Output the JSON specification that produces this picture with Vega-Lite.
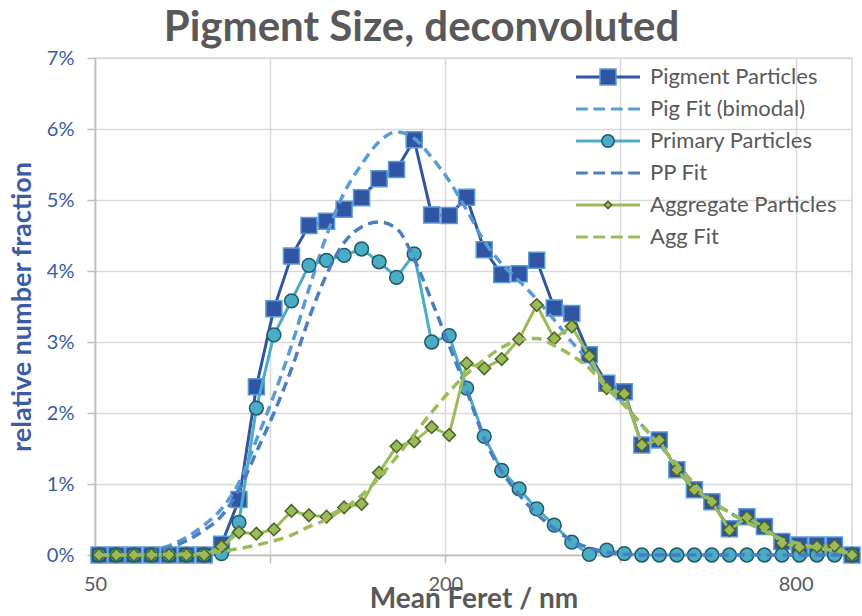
{
  "$schema": "https://vega.github.io/schema/vega-lite/v6.json",
  "autosize": {"type": "none"},
  "width": 757,
  "height": 497,
  "padding": {"left": 95, "top": 58, "right": 10, "bottom": 61},
  "background": "white",
  "title": {"text": "Pigment Size, deconvoluted", "font": "Lato", "fontSize": 42, "fontWeight": "bold", "color": "#595959", "anchor": "middle", "frame": "group", "dx": -52, "offset": -2},
  "data": {"values": [
    {"d": 50.8, "pig": 0, "pigFit": 0, "pp": 0, "ppFit": 0, "agg": 0, "aggFit": 0},
    {"d": 54.4, "pig": 0, "pigFit": 0.005, "pp": 0, "ppFit": 0, "agg": 0, "aggFit": 0},
    {"d": 58.3, "pig": 0, "pigFit": 0.02, "pp": 0, "ppFit": 0.01, "agg": 0, "aggFit": 0},
    {"d": 62.5, "pig": 0, "pigFit": 0.06, "pp": 0, "ppFit": 0.04, "agg": 0, "aggFit": 0},
    {"d": 67.0, "pig": 0, "pigFit": 0.13, "pp": 0, "ppFit": 0.1, "agg": 0, "aggFit": 0.01},
    {"d": 71.8, "pig": 0, "pigFit": 0.25, "pp": 0, "ppFit": 0.2, "agg": 0, "aggFit": 0.01},
    {"d": 77.0, "pig": 0, "pigFit": 0.42, "pp": 0, "ppFit": 0.35, "agg": 0, "aggFit": 0.02},
    {"d": 82.5, "pig": 0.15, "pigFit": 0.65, "pp": 0.02, "ppFit": 0.55, "agg": 0.12, "aggFit": 0.05},
    {"d": 88.4, "pig": 0.78, "pigFit": 1.02, "pp": 0.46, "ppFit": 0.92, "agg": 0.32, "aggFit": 0.09},
    {"d": 94.7, "pig": 2.37, "pigFit": 1.62, "pp": 2.07, "ppFit": 1.45, "agg": 0.30, "aggFit": 0.14},
    {"d": 101.5, "pig": 3.47, "pigFit": 2.25, "pp": 3.10, "ppFit": 2.0, "agg": 0.36, "aggFit": 0.2},
    {"d": 108.8, "pig": 4.21, "pigFit": 2.95, "pp": 3.58, "ppFit": 2.62, "agg": 0.62, "aggFit": 0.28},
    {"d": 116.6, "pig": 4.64, "pigFit": 3.75, "pp": 4.08, "ppFit": 3.33, "agg": 0.56, "aggFit": 0.40},
    {"d": 125.0, "pig": 4.70, "pigFit": 4.5, "pp": 4.15, "ppFit": 3.95, "agg": 0.54, "aggFit": 0.50},
    {"d": 134.0, "pig": 4.87, "pigFit": 5.1, "pp": 4.22, "ppFit": 4.4, "agg": 0.67, "aggFit": 0.66},
    {"d": 143.6, "pig": 5.03, "pigFit": 5.5, "pp": 4.31, "ppFit": 4.62, "agg": 0.72, "aggFit": 0.84},
    {"d": 153.9, "pig": 5.30, "pigFit": 5.82, "pp": 4.13, "ppFit": 4.69, "agg": 1.16, "aggFit": 1.09},
    {"d": 164.9, "pig": 5.43, "pigFit": 5.96, "pp": 3.91, "ppFit": 4.6, "agg": 1.53, "aggFit": 1.38},
    {"d": 176.8, "pig": 5.85, "pigFit": 5.87, "pp": 4.24, "ppFit": 4.17, "agg": 1.60, "aggFit": 1.70},
    {"d": 189.5, "pig": 4.79, "pigFit": 5.6, "pp": 3.00, "ppFit": 3.58, "agg": 1.80, "aggFit": 2.01},
    {"d": 203.1, "pig": 4.78, "pigFit": 5.27, "pp": 3.09, "ppFit": 2.95, "agg": 1.69, "aggFit": 2.30},
    {"d": 217.6, "pig": 5.04, "pigFit": 4.86, "pp": 2.35, "ppFit": 2.32, "agg": 2.70, "aggFit": 2.55},
    {"d": 233.3, "pig": 4.30, "pigFit": 4.42, "pp": 1.67, "ppFit": 1.64, "agg": 2.63, "aggFit": 2.75},
    {"d": 250.0, "pig": 3.95, "pigFit": 4.1, "pp": 1.19, "ppFit": 1.18, "agg": 2.76, "aggFit": 2.92},
    {"d": 267.9, "pig": 3.96, "pigFit": 3.86, "pp": 0.93, "ppFit": 0.85, "agg": 3.04, "aggFit": 3.03},
    {"d": 287.2, "pig": 4.15, "pigFit": 3.6, "pp": 0.65, "ppFit": 0.58, "agg": 3.52, "aggFit": 3.05},
    {"d": 307.8, "pig": 3.48, "pigFit": 3.31, "pp": 0.42, "ppFit": 0.37, "agg": 3.05, "aggFit": 2.95},
    {"d": 329.9, "pig": 3.40, "pigFit": 3.0, "pp": 0.18, "ppFit": 0.2, "agg": 3.22, "aggFit": 2.81},
    {"d": 353.6, "pig": 2.82, "pigFit": 2.72, "pp": 0.01, "ppFit": 0.1, "agg": 2.80, "aggFit": 2.63},
    {"d": 378.9, "pig": 2.42, "pigFit": 2.38, "pp": 0.07, "ppFit": 0.04, "agg": 2.35, "aggFit": 2.35},
    {"d": 406.1, "pig": 2.30, "pigFit": 2.12, "pp": 0.02, "ppFit": 0.01, "agg": 2.27, "aggFit": 2.11},
    {"d": 435.3, "pig": 1.55, "pigFit": 1.83, "pp": 0, "ppFit": 0, "agg": 1.55, "aggFit": 1.83},
    {"d": 466.5, "pig": 1.62, "pigFit": 1.55, "pp": 0, "ppFit": 0, "agg": 1.62, "aggFit": 1.55},
    {"d": 500.0, "pig": 1.20, "pigFit": 1.28, "pp": 0, "ppFit": 0, "agg": 1.20, "aggFit": 1.28},
    {"d": 535.9, "pig": 0.92, "pigFit": 1.0, "pp": 0, "ppFit": 0, "agg": 0.92, "aggFit": 1.0},
    {"d": 574.3, "pig": 0.75, "pigFit": 0.76, "pp": 0, "ppFit": 0, "agg": 0.75, "aggFit": 0.76},
    {"d": 615.6, "pig": 0.37, "pigFit": 0.6, "pp": 0, "ppFit": 0, "agg": 0.35, "aggFit": 0.6},
    {"d": 659.8, "pig": 0.54, "pigFit": 0.46, "pp": 0, "ppFit": 0, "agg": 0.53, "aggFit": 0.46},
    {"d": 707.1, "pig": 0.40, "pigFit": 0.34, "pp": 0, "ppFit": 0, "agg": 0.39, "aggFit": 0.34},
    {"d": 757.9, "pig": 0.19, "pigFit": 0.22, "pp": 0, "ppFit": 0, "agg": 0.17, "aggFit": 0.22},
    {"d": 812.3, "pig": 0.14, "pigFit": 0.16, "pp": 0, "ppFit": 0, "agg": 0.11, "aggFit": 0.16},
    {"d": 870.6, "pig": 0.14, "pigFit": 0.1, "pp": 0, "ppFit": 0, "agg": 0.12, "aggFit": 0.1},
    {"d": 933.0, "pig": 0.14, "pigFit": 0.06, "pp": 0, "ppFit": 0, "agg": 0.13, "aggFit": 0.06},
    {"d": 1000.0, "pig": 0, "pigFit": 0.02, "pp": 0, "ppFit": 0, "agg": 0, "aggFit": 0.02}
  ]},
  "encoding": {
    "x": {"field": "d", "type": "quantitative", "title": "Mean Feret / nm",
      "scale": {"type": "log", "base": 2, "domain": [50, 1000], "nice": false, "zero": false},
      "axis": {"values": [50, 100, 200, 400, 800], "labelExpr": "datum.value == 100 || datum.value == 400 ? '' : datum.label", "format": "d"}}
  },
  "layer": [
    {"mark": {"type": "line", "color": "#2F55A4", "strokeWidth": 3},
     "encoding": {"y": {"field": "pig", "type": "quantitative", "title": "relative number fraction",
       "scale": {"domain": [0, 7], "nice": false},
       "axis": {"values": [0, 1, 2, 3, 4, 5, 6, 7], "labelExpr": "datum.value + '%'"}}}},
    {"mark": {"type": "point", "shape": "square", "filled": true, "fill": "#2F55A4", "stroke": "#5B9BD5", "strokeWidth": 1.5, "size": 256, "opacity": 1},
     "encoding": {"y": {"field": "pig", "type": "quantitative", "title": "relative number fraction"}}},
    {"mark": {"type": "line", "color": "#5B9BD5", "strokeWidth": 3.5, "strokeDash": [10, 6], "interpolate": "monotone"},
     "encoding": {"y": {"field": "pigFit", "type": "quantitative", "title": "relative number fraction"}}},
    {"mark": {"type": "line", "color": "#4BACC6", "strokeWidth": 3},
     "encoding": {"y": {"field": "pp", "type": "quantitative", "title": "relative number fraction"}}},
    {"mark": {"type": "point", "shape": "circle", "filled": true, "fill": "#4BACC6", "stroke": "#1F5A68", "strokeWidth": 1.5, "size": 190, "opacity": 1},
     "encoding": {"y": {"field": "pp", "type": "quantitative", "title": "relative number fraction"}}},
    {"mark": {"type": "line", "color": "#4A7EC2", "strokeWidth": 3.5, "strokeDash": [10, 6], "interpolate": "monotone"},
     "encoding": {"y": {"field": "ppFit", "type": "quantitative", "title": "relative number fraction"}}},
    {"mark": {"type": "line", "color": "#9BBB59", "strokeWidth": 3},
     "encoding": {"y": {"field": "agg", "type": "quantitative", "title": "relative number fraction"}}},
    {"mark": {"type": "point", "shape": "diamond", "filled": true, "fill": "#9BBB59", "stroke": "#4F6228", "strokeWidth": 1.5, "size": 160, "opacity": 1},
     "encoding": {"y": {"field": "agg", "type": "quantitative", "title": "relative number fraction"}}},
    {"mark": {"type": "line", "color": "#9BBB59", "strokeWidth": 3.5, "strokeDash": [10, 6], "interpolate": "monotone"},
     "encoding": {"y": {"field": "aggFit", "type": "quantitative", "title": "relative number fraction"}}},
    {"transform": [{"filter": "false"}],
     "mark": {"type": "point", "filled": false, "strokeWidth": 3, "opacity": 1},
     "encoding": {
       "y": {"field": "pig", "type": "quantitative", "title": "relative number fraction"},
       "shape": {"field": "s", "type": "nominal",
         "scale": {"domain": ["Pigment Particles", "Pig Fit (bimodal)", "Primary Particles", "PP Fit", "Aggregate Particles", "Agg Fit"],
           "range": ["M-6.4,0H6.4", "M-6.4,0H-4.04M-2.94,0H-0.58M0.58,0H2.94M4.04,0H6.4", "M-6.4,0H6.4", "M-6.4,0H-4.04M-2.94,0H-0.58M0.58,0H2.94M4.04,0H6.4", "M-6.4,0H6.4", "M-6.4,0H-4.04M-2.94,0H-0.58M0.58,0H2.94M4.04,0H6.4"]},
         "legend": {"title": null, "orient": "none", "legendX": 502, "legendY": 8, "padding": 0, "symbolSize": 100, "symbolStrokeWidth": 3, "symbolFillColor": "transparent", "symbolOpacity": 1, "labelFont": "Lato", "labelFontSize": 22, "labelColor": "#595959", "labelOffset": 31, "rowPadding": 10, "labelLimit": 400}},
       "stroke": {"field": "s", "type": "nominal",
         "scale": {"domain": ["Pigment Particles", "Pig Fit (bimodal)", "Primary Particles", "PP Fit", "Aggregate Particles", "Agg Fit"],
           "range": ["#2F55A4", "#5B9BD5", "#4BACC6", "#4A7EC2", "#9BBB59", "#9BBB59"]},
         "legend": {"title": null, "orient": "none", "legendX": 502, "legendY": 8, "padding": 0, "symbolSize": 100, "symbolStrokeWidth": 3, "symbolFillColor": "transparent", "symbolOpacity": 1, "labelFont": "Lato", "labelFontSize": 22, "labelColor": "#595959", "labelOffset": 31, "rowPadding": 10, "labelLimit": 400}}
     }},
    {"transform": [{"filter": "false"}],
     "mark": {"type": "point", "filled": true, "strokeWidth": 1.5, "opacity": 1},
     "encoding": {
       "y": {"field": "pig", "type": "quantitative", "title": "relative number fraction"},
       "fill": {"field": "s2", "type": "nominal",
         "scale": {"domain": ["m1", "m2", "m3", "m4", "m5", "m6"],
           "range": ["#2F55A4", "transparent", "#4BACC6", "transparent", "#9BBB59", "transparent"]},
         "legend": {"title": null, "orient": "none", "legendX": 502, "legendY": 8, "padding": 0, "symbolStrokeWidth": 1.5, "symbolOpacity": 1, "labelFont": "Lato", "labelFontSize": 22, "labelOpacity": 0, "labelOffset": 31, "rowPadding": 10, "labelLimit": 400}},
       "stroke": {"field": "s2", "type": "nominal",
         "scale": {"domain": ["m1", "m2", "m3", "m4", "m5", "m6"],
           "range": ["#5B9BD5", "transparent", "#1F5A68", "transparent", "#4F6228", "transparent"]},
         "legend": {"title": null, "orient": "none", "legendX": 502, "legendY": 8, "padding": 0, "symbolStrokeWidth": 1.5, "symbolOpacity": 1, "labelFont": "Lato", "labelFontSize": 22, "labelOpacity": 0, "labelOffset": 31, "rowPadding": 10, "labelLimit": 400}},
       "shape": {"field": "s2", "type": "nominal",
         "scale": {"domain": ["m1", "m2", "m3", "m4", "m5", "m6"],
           "range": ["square", "circle", "circle", "circle", "diamond", "circle"]},
         "legend": {"title": null, "orient": "none", "legendX": 502, "legendY": 8, "padding": 0, "symbolStrokeWidth": 1.5, "symbolOpacity": 1, "labelFont": "Lato", "labelFontSize": 22, "labelOpacity": 0, "labelOffset": 31, "rowPadding": 10, "labelLimit": 400}},
       "size": {"field": "s2", "type": "nominal",
         "scale": {"domain": ["m1", "m2", "m3", "m4", "m5", "m6"],
           "range": [256, 0, 190, 0, 200, 0]},
         "legend": {"title": null, "orient": "none", "legendX": 502, "legendY": 8, "padding": 0, "symbolStrokeWidth": 1.5, "symbolOpacity": 1, "labelFont": "Lato", "labelFontSize": 22, "labelOpacity": 0, "labelOffset": 31, "rowPadding": 10, "labelLimit": 400}}
     }}
  ],
  "resolve": {"scale": {"shape": "independent", "stroke": "independent", "fill": "independent", "size": "independent"}},
  "config": {
    "font": "Lato",
    "view": {"stroke": "#D9D9D9", "strokeWidth": 1.5},
    "axis": {"grid": true, "gridColor": "#D9D9D9", "gridWidth": 1.5, "domainColor": "#BFBFBF", "domainWidth": 1.5, "tickColor": "#BFBFBF", "tickWidth": 1.5, "tickSize": 8, "labelFont": "Lato", "labelFontSize": 20, "titleFont": "Lato", "titleFontWeight": "bold"},
    "axisX": {"labelColor": "#595959", "titleColor": "#595959", "titleFontSize": 28, "labelPadding": 11, "titlePadding": -9, "labelFlush": false, "labelOverlap": false},
    "axisY": {"labelColor": "#3B5BA9", "titleColor": "#3B5BA9", "titleFontSize": 27, "labelPadding": 13, "titlePadding": 10}
  }
}
